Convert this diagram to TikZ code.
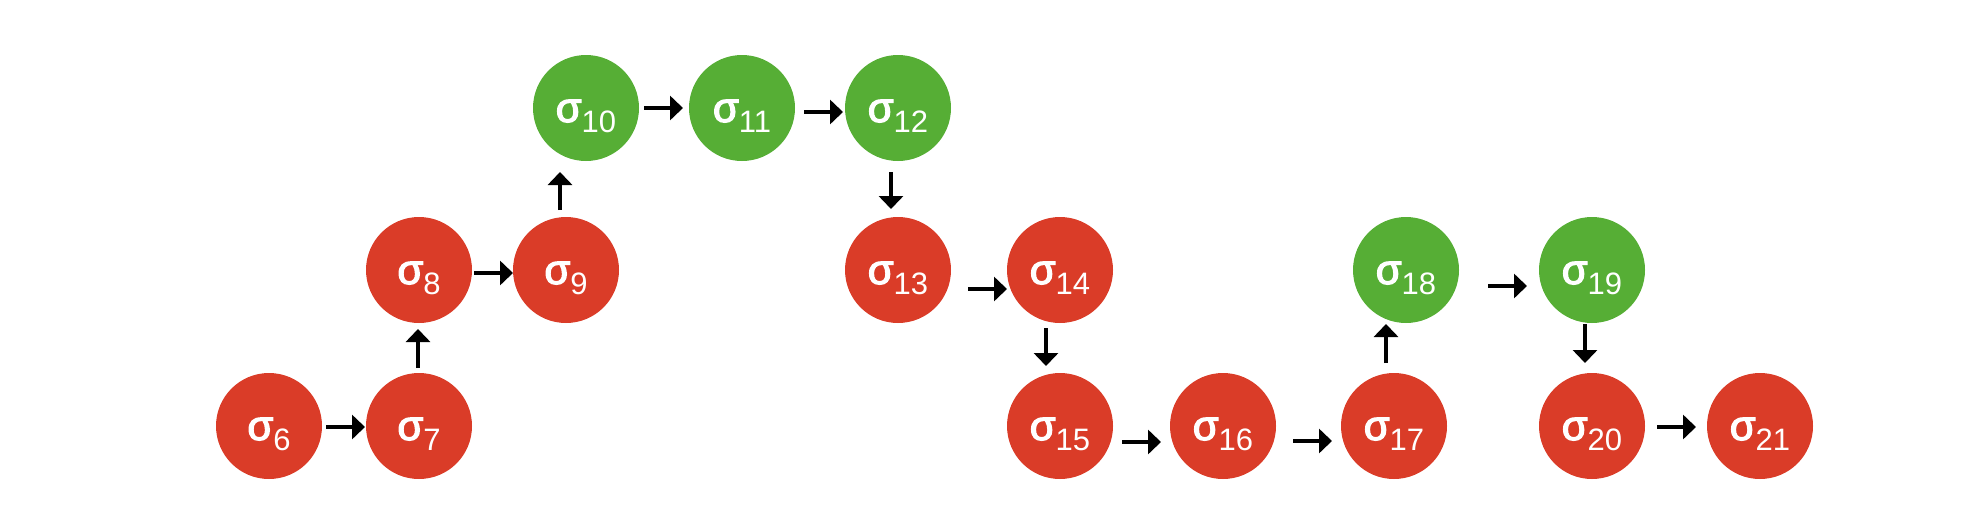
\documentclass[tikz,border=0pt]{standalone}
\usepackage{fontspec}
\setmainfont{Liberation Sans}
\newfontfamily\sigfont[FakeBold=3]{Liberation Sans}
\usetikzlibrary{arrows.meta}
\definecolor{nred}{HTML}{DA3C28}
\definecolor{ngreen}{HTML}{56AE35}
\newcommand{\sig}[1]{{\sigfont\fontsize{42}{42}\selectfont σ}\raisebox{-10pt}{\fontsize{31}{31}\selectfont #1}}
\tikzset{
  st/.style={circle, minimum size=106pt, inner sep=0pt, text=white, text height=30pt, text depth=2pt},
  rn/.style={st, fill=nred},
  gn/.style={st, fill=ngreen},
  arr/.style={line width=4pt, -{Triangle[length=13pt,width=24pt]}}
}
\begin{document}
\begin{tikzpicture}[x=1pt,y=-1pt]
\useasboundingbox (0,0) rectangle (1962,520);
\node[rn] (n6) at (269,426) {\sig{6}};
\node[rn] (n7) at (419,426) {\sig{7}};
\node[rn] (n8) at (419,270) {\sig{8}};
\node[rn] (n9) at (566,270) {\sig{9}};
\node[gn] (n10) at (586,108) {\sig{10}};
\node[gn] (n11) at (742,108) {\sig{11}};
\node[gn] (n12) at (898,108) {\sig{12}};
\node[rn] (n13) at (898,270) {\sig{13}};
\node[rn] (n14) at (1060,270) {\sig{14}};
\node[rn] (n15) at (1060,426) {\sig{15}};
\node[rn] (n16) at (1223,426) {\sig{16}};
\node[rn] (n17) at (1394,426) {\sig{17}};
\node[gn] (n18) at (1406,270) {\sig{18}};
\node[gn] (n19) at (1592,270) {\sig{19}};
\node[rn] (n20) at (1592,426) {\sig{20}};
\node[rn] (n21) at (1760,426) {\sig{21}};
\draw[arr] ([shift={(57,1)}]n6.center) -- ([shift={(-54,1)}]n7.center);
\draw[arr] ([shift={(-1,-58)}]n7.center) -- ([shift={(-1,59)}]n8.center);
\draw[arr] ([shift={(55,3)}]n8.center) -- ([shift={(-53,3)}]n9.center);
\draw[arr] ([shift={(-6,-60)}]n9.center) -- ([shift={(-26,64)}]n10.center);
\draw[arr] ([shift={(58,0)}]n10.center) -- ([shift={(-59,0)}]n11.center);
\draw[arr] ([shift={(62,4)}]n11.center) -- ([shift={(-55,4)}]n12.center);
\draw[arr] ([shift={(-7,64)}]n12.center) -- ([shift={(-7,-61)}]n13.center);
\draw[arr] ([shift={(70,19)}]n13.center) -- ([shift={(-53,19)}]n14.center);
\draw[arr] ([shift={(-14,58)}]n14.center) -- ([shift={(-14,-60)}]n15.center);
\draw[arr] ([shift={(62,16)}]n15.center) -- ([shift={(-62,16)}]n16.center);
\draw[arr] ([shift={(70,15)}]n16.center) -- ([shift={(-62,15)}]n17.center);
\draw[arr] ([shift={(-8,-63)}]n17.center) -- ([shift={(-20,54)}]n18.center);
\draw[arr] ([shift={(82,16)}]n18.center) -- ([shift={(-65,16)}]n19.center);
\draw[arr] ([shift={(-7,54)}]n19.center) -- ([shift={(-7,-63)}]n20.center);
\draw[arr] ([shift={(65,1)}]n20.center) -- ([shift={(-64,1)}]n21.center);
\end{tikzpicture}
\end{document}
